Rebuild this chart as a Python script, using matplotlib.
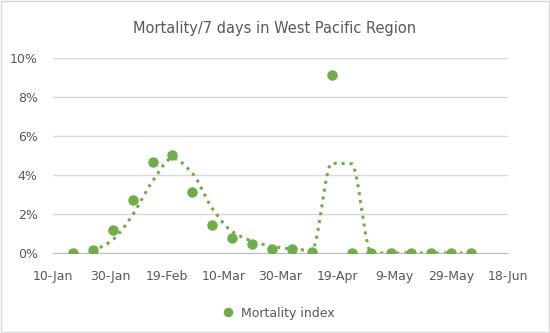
import matplotlib
matplotlib.use("Agg")
import matplotlib.pyplot as plt
import matplotlib.dates as mdates
import numpy as np
from datetime import date, timedelta

# weekly mortality index (%)
week_dates = [date(2020, 1, 17) + timedelta(days=7 * i) for i in range(21)]
mortality = [0.0, 0.15, 1.2, 2.7, 4.67, 5.05, 3.13, 1.45, 0.75, 0.48, 0.2,
             0.22, 0.05, 9.15, 0.0, 0.0, 0.0, 0.0, 0.0, 0.0, 0.0]
tick_dates = [date(2020, 1, 10) + timedelta(days=20 * i) for i in range(9)]
tick_labels = ["10-Jan", "30-Jan", "19-Feb", "10-Mar", "30-Mar",
               "19-Apr", "9-May", "29-May", "18-Jun"]

green = "#70AD47"
grey_txt = "#595959"


def pchip(x, y, xs):
    # monotone cubic interpolation, to get the smooth look of the trendline
    x = np.asarray(x, float)
    y = np.asarray(y, float)
    h = np.diff(x)
    d = np.diff(y) / h
    m = np.zeros_like(y)
    for k in range(1, len(y) - 1):
        if d[k - 1] * d[k] > 0:
            w1 = 2 * h[k] + h[k - 1]
            w2 = h[k] + 2 * h[k - 1]
            m[k] = (w1 + w2) / (w1 / d[k - 1] + w2 / d[k])
    m[0] = d[0]
    m[-1] = d[-1]
    out = np.empty_like(xs)
    idx = np.clip(np.searchsorted(x, xs) - 1, 0, len(x) - 2)
    for j, (xv, k) in enumerate(zip(xs, idx)):
        t = (xv - x[k]) / h[k]
        h00 = 2 * t**3 - 3 * t**2 + 1
        h10 = t**3 - 2 * t**2 + t
        h01 = -2 * t**3 + 3 * t**2
        h11 = t**3 - t**2
        out[j] = h00 * y[k] + h10 * h[k] * m[k] + h01 * y[k + 1] + h11 * h[k] * m[k + 1]
    return out


xnum = mdates.date2num(week_dates)
vals = np.array(mortality)
# 2-period moving average trendline
ma = (vals[1:] + vals[:-1]) / 2
ma_x = xnum[1:]
xs = np.linspace(ma_x[0], ma_x[-1], 600)
ys = pchip(ma_x, ma, xs)

fig = plt.figure(figsize=(5.5, 3.33), dpi=100)
fig.patches.append(plt.Rectangle((0.002, 0.003), 0.996, 0.994, transform=fig.transFigure,
                                 fill=False, edgecolor="#d9d9d9", linewidth=1))
ax = fig.add_axes([0.0964, 0.2402, 0.8272, 0.5856])

ax.plot(xs, ys, color=green, linestyle=(0, (1, 1.6)), linewidth=2.2, zorder=2)
ax.plot(xnum, vals, "o", color=green, markersize=6.5, zorder=3,
        label="Mortality index")

tnum = mdates.date2num(tick_dates)
ax.set_xlim(tnum[0], tnum[-1])
ax.set_xticks(tnum)
ax.set_xticklabels(tick_labels)
ax.set_ylim(0, 10)
ax.set_yticks(range(0, 11, 2))
ax.set_yticklabels([f"{v}%" for v in range(0, 11, 2)])
ax.grid(axis="y", color="#d9d9d9", linewidth=1)
ax.set_axisbelow(True)
for s in ["top", "right", "left"]:
    ax.spines[s].set_visible(False)
ax.spines["bottom"].set_color("#bfbfbf")
ax.tick_params(length=0, labelsize=9, colors=grey_txt)
ax.tick_params(axis="x", pad=12)
ax.tick_params(axis="y", pad=11)

fig.text(0.5, 0.913, "Mortality/7 days in West Pacific Region", ha="center",
         va="center", fontsize=10.5, color=grey_txt)
fig.legend(loc="center", bbox_to_anchor=(0.5, 0.06), frameon=False, fontsize=9,
           labelcolor=grey_txt, handletextpad=0.1, markerscale=0.9)

fig.savefig("out.png", dpi=100)
